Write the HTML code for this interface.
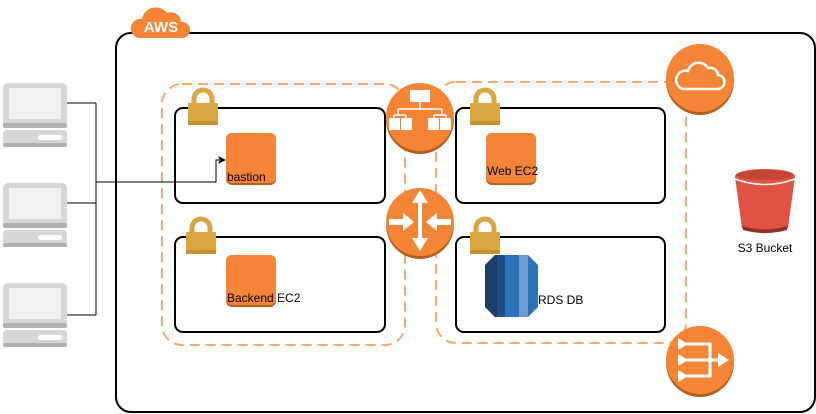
<!DOCTYPE html>
<html><head><meta charset="utf-8"><style>
html,body{margin:0;padding:0;background:#fff;}
svg{display:block;font-family:"Liberation Sans",Arial,sans-serif;}
</style></head><body>
<svg width="816" height="414" viewBox="0 0 816 414" xmlns="http://www.w3.org/2000/svg">
<defs>
<g id="pc">
  <rect x="3" y="0" width="64" height="45" rx="5" fill="#d5d6d6"/>
  <rect x="3" y="40" width="64" height="5" rx="2" fill="#b0b1b1"/>
  <rect x="9" y="5" width="52" height="31" fill="#f1f1f1"/>
  <rect x="3" y="47" width="64" height="17" rx="4" fill="#d5d6d6"/>
  <rect x="3" y="60" width="64" height="4" rx="2" fill="#b0b1b1"/>
  <rect x="38" y="52" width="24" height="5" rx="2.5" fill="#fff"/>
</g>
<g id="lock">
  <path d="M6 13 V8 a9 9 0 0 1 18 0 V13" fill="none" stroke="#d9a741" stroke-width="5"/>
  <rect x="0" y="12" width="30" height="22" fill="#d9a741"/>
  <rect x="0" y="30" width="30" height="4" fill="#c4922f"/>
</g>
<g id="ec2">
  <rect x="0" y="0" width="50" height="52" rx="6" fill="#b55f1c"/>
  <rect x="0" y="0" width="50" height="50" rx="6" fill="#f58536"/>
</g>
</defs>

<rect x="116" y="33" width="699" height="379" rx="15" fill="none" stroke="#000" stroke-width="2"/>
<g>
  <path d="M139 38 h44 a8 8 0 0 0 -2 -16 a10 10 0 0 0 -14 -9 a14 14 0 0 0 -25 6 a9 9 0 0 0 -3 19z" fill="#f58536"/>
  <text x="161" y="32" font-size="15" font-weight="bold" fill="#fff" text-anchor="middle">AWS</text>
</g>

<rect x="162" y="84" width="243" height="261" rx="20" fill="none" stroke="#f9a86a" stroke-width="2" stroke-dasharray="10,6"/>
<rect x="436" y="82" width="250" height="261" rx="20" fill="none" stroke="#f9a86a" stroke-width="2" stroke-dasharray="10,6"/>

<rect x="175" y="108" width="210" height="95" rx="8" fill="#fff" stroke="#000" stroke-width="2"/>
<rect x="175" y="237" width="210" height="95" rx="8" fill="#fff" stroke="#000" stroke-width="2"/>
<rect x="456" y="108" width="209" height="95" rx="8" fill="#fff" stroke="#000" stroke-width="2"/>
<rect x="456" y="237" width="209" height="95" rx="8" fill="#fff" stroke="#000" stroke-width="2"/>

<use href="#lock" x="188" y="91"/>
<use href="#lock" x="186" y="220"/>
<use href="#lock" x="470" y="91"/>
<use href="#lock" x="470" y="220"/>

<use href="#ec2" x="226" y="133"/>
<use href="#ec2" x="226" y="255"/>
<use href="#ec2" x="486" y="133"/>
<text x="227" y="181" font-size="12">bastion</text>
<text x="227" y="302" font-size="12">Backend EC2</text>
<text x="487" y="175" font-size="12">Web EC2</text>

<g>
  <polygon points="495,255 528,255 538,265 538,307 528,317 495,317 485,307 485,265" fill="#2e73b8"/>
  <polygon points="485,265 495,255 497,255 497,317 495,317 485,307" fill="#1a3e66"/>
  <rect x="497" y="255" width="8" height="62" fill="#204e86"/>
  <rect x="519" y="255" width="9" height="62" fill="#6c9fd1"/>
</g>
<text x="538" y="304" font-size="12">RDS DB</text>

<circle cx="420" cy="120" r="34" fill="#b55f1c"/>
<circle cx="420" cy="117" r="34" fill="#f58536"/>
<g fill="#fff">
  <rect x="410" y="90" width="20" height="12"/>
  <path d="M420 102 v7 M398 109 h44 M398 109 v6 M442 109 v6 M394 115 h12 M434 115 h12 M394 115 v4 M406 115 v4 M434 115 v4 M446 115 v4" fill="none" stroke="#fff" stroke-width="1.5"/>
  <rect x="389" y="118" width="11" height="12"/>
  <rect x="401" y="118" width="11" height="12"/>
  <rect x="428" y="118" width="11" height="12"/>
  <rect x="440" y="118" width="11" height="12"/>
</g>

<circle cx="420" cy="225" r="34" fill="#b55f1c"/>
<circle cx="420" cy="222" r="34" fill="#f58536"/>
<g fill="#fff">
  <rect x="418" y="198" width="4" height="44"/>
  <polygon points="412,203 420,190 428,203"/>
  <polygon points="412,238 420,251 428,238"/>
  <rect x="389" y="219" width="14" height="6"/>
  <polygon points="403,213 414,222 403,231"/>
  <rect x="437" y="219" width="14" height="6"/>
  <polygon points="437,213 426,222 437,231"/>
</g>

<circle cx="700" cy="81" r="34" fill="#b55f1c"/>
<circle cx="700" cy="78" r="34" fill="#f58536"/>
<path d="M683 89 h34 a7 7 0 0 0 1 -14 a8 8 0 0 0 -10 -7 a11 11 0 0 0 -20 3 a9 9 0 0 0 -5 18z" fill="none" stroke="#fff" stroke-width="2.5"/>

<circle cx="700" cy="363" r="34" fill="#b55f1c"/>
<circle cx="700" cy="360" r="34" fill="#f58536"/>
<g fill="#fff" stroke="#fff">
  <path d="M686 344 h24 v32 h-24 M686 360 h34" fill="none" stroke-width="3"/>
  <polygon points="678,338 688,344 678,350" stroke="none"/>
  <polygon points="678,354 688,360 678,366" stroke="none"/>
  <polygon points="678,370 688,376 678,382" stroke="none"/>
  <polygon points="718,353 729,360 718,367" stroke="none"/>
</g>

<path d="M735 177 L742 228 Q765 234 788 228 L795 177 Z" fill="#e05243"/>
<path d="M742 226 Q765 233 788 226 L787 230 Q765 236 743 230Z" fill="#8c3123"/>
<ellipse cx="765" cy="176" rx="30" ry="7" fill="#e05243"/>
<path d="M735 179 Q765 190 795 179" fill="none" stroke="#fff" stroke-width="1.5"/>
<ellipse cx="765" cy="175" rx="28" ry="5" fill="#8c3123" opacity="0.35"/>
<text x="765" y="252" font-size="12" text-anchor="middle">S3 Bucket</text>

<use href="#pc" x="0" y="83"/>
<use href="#pc" x="0" y="183"/>
<use href="#pc" x="0" y="283"/>

<path d="M67 103 H96 M67 203 H96 M67 315 H96 M96 103 V315 M96 182 H216 V160 H222" fill="none" stroke="#000" stroke-width="1"/>
<polygon points="218,156 226,160 218,164 220,160" fill="#000"/>
</svg>
</body></html>
